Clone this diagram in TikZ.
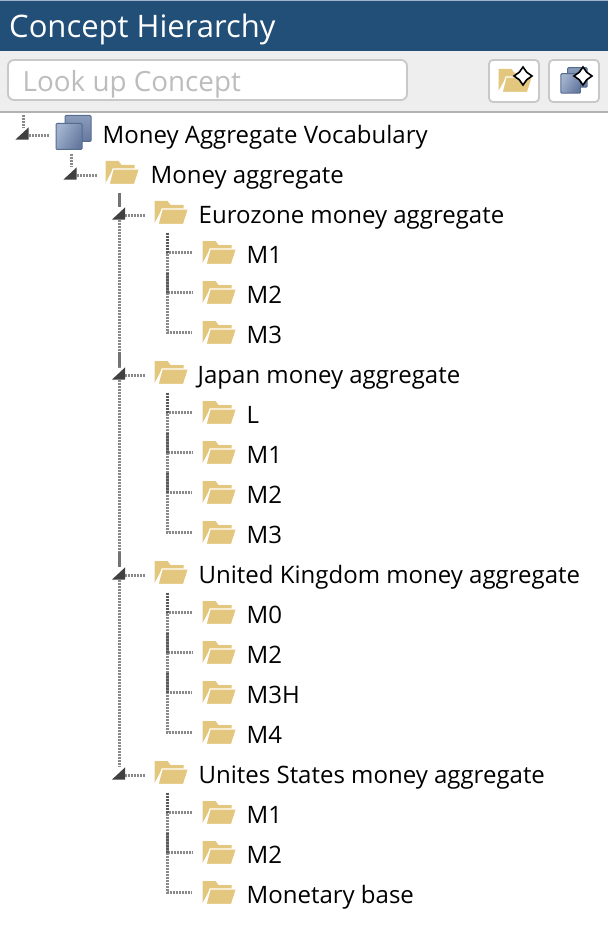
\documentclass[tikz,border=0pt]{standalone}
\usepackage{fontspec}
\setmainfont{Open Sans}
\usepackage{xcolor}
\definecolor{header}{HTML}{214F77}
\definecolor{bar}{HTML}{EEEEEE}
\definecolor{edge}{HTML}{C8C8C8}
\definecolor{hint}{HTML}{BDBDBD}
\definecolor{tan}{HTML}{E3C77F}
\definecolor{cubelight}{HTML}{A3B3CE}
\definecolor{cubedark}{HTML}{65799F}
\definecolor{cubeline}{HTML}{566C8F}
\definecolor{treegray}{HTML}{8A8A8A}
\usetikzlibrary{shapes.geometric}
\tikzset{
    bannertext/.style = {
      anchor=base west,
      inner sep=0pt,
      text=white,
      font=\fontsize{31}{34}\selectfont
    },
    hinttext/.style = {
      anchor=base west,
      inner sep=0pt,
      text=hint,
      font=\fontsize{27.8}{30}\selectfont
    },
    concept/.style = {
      anchor=base west,
      inner sep=0pt,
      font=\fontsize{24}{28}\selectfont
    },
    folder/.style = {
      inner sep=0pt,
      minimum width=35pt,
      minimum height=25pt
    },
    cube/.style = {
      inner sep=0pt,
      minimum width=36pt,
      minimum height=35pt
    },
    toggle/.style = {
      inner sep=0pt,
      minimum width=13pt,
      minimum height=12pt
    },
    button/.style = {
      draw=edge,
      line width=1.8pt,
      fill=white,
      rounded corners=4pt,
      inner sep=0pt,
      minimum width=50pt,
      minimum height=42pt
    },
    spark/.style = {
      star,
      star points=4,
      star point ratio=1.7,
      draw=black,
      fill=white,
      line width=1.6pt,
      inner sep=0pt,
      minimum size=18pt
    },
    treeline/.style = {
      draw=treegray,
      line width=3pt,
      dash pattern=on 2pt off 1pt
    },
    treedark/.style = {
      treeline,
      draw=black!65
    },
    stemline/.style = {
      draw=black!55,
      line width=3pt
    },
    pics/foldericon/.style = {
      code = {
        \fill[tan] (-16.5,-11.5) -- (-3.5,-11.5) -- (-0.5,-7.5) -- (12.5,-7.5) -- (12.5,-2.5) -- (-9.5,-2.5) -- (-16.5,10.5) -- cycle;
        \fill[tan, draw=white, line width=1.2pt] (-9,-3.5) -- (17.5,-3.5) -- (12.5,12) -- (-13,12) -- cycle;
      }
    },
    pics/cubeicon/.style = {
      code = {
        \draw[cubeline, line width=1pt, top color=cubelight!60!cubedark, bottom color=cubedark, rounded corners=1pt] (-8.5,-17) rectangle (17.5,9);
        \draw[cubeline, line width=1pt, left color=cubelight, right color=cubedark, shading angle=60, rounded corners=1pt] (-17.5,-9) rectangle (8.5,17);
      }
    }
}
\begin{document}
\begin{tikzpicture}[x=1pt,y=-1pt]
      \useasboundingbox (0,0) rectangle (608,925);

      % title and tool bar
      \fill[header] (0,0) rectangle (608,51);
      \fill[cubelight] (0,0) rectangle (608,1);
      \fill[bar] (0,51) rectangle (608,111);
      \fill[black!30] (0,111) rectangle (608,113);
      \node[bannertext] (title) at (9,38) {Concept Hierarchy};
      \node[draw=edge, line width=1.8pt, fill=white, rounded corners=6pt, minimum width=399pt, minimum height=40pt, inner sep=0pt] (search) at (207.5,80) {};
      \node[hinttext] (hint) at (22.5,92) {Look up Concept};
      \node[button] (newfolder) at (514,81) {};
      \node[button] (newcube) at (574,81) {};
      \node[folder] (iconF) at (515,80.5) {};
      \node[cube]   (iconC) at (574,80.5) {};
      \pic at (iconF) {foldericon};
      \pic[scale=0.75] at (iconC) {cubeicon};
      \node[spark] (sparkF) at (523,76) {};
      \node[spark] (sparkC) at (583,76) {};

      % upper levels
      \node[toggle]   (tR) at (22,133.5) {};
      \node[cube]     (R)  at (73.5,132.5) {};
      \node[concept]  (lR) at (102.5,144) {Money Aggregate Vocabulary};
      \node[toggle]   (tA) at (70,173.5) {};
      \node[folder]   (A)  at (122,172.5) {};
      \node[concept]  (lA) at (150.5,184) {Money aggregate};
      \coordinate     (topR) at (23,115);
      \coordinate     (topA) at (71,154);

      % countries
      \node[toggle]   (tE) at (118.5,213.5) {};
      \node[folder]   (E)  at (171,212.5) {};
      \node[concept]  (lE) at (198.5,223.5) {Eurozone money aggregate};
      \node[toggle]   (tJ) at (118.5,373.5) {};
      \node[folder]   (J)  at (171,372.5) {};
      \node[concept]  (lJ) at (197.5,383.5) {Japan money aggregate};
      \node[toggle]   (tK) at (118.5,573.5) {};
      \node[folder]   (K)  at (171,572.5) {};
      \node[concept]  (lK) at (198.5,583.5) {United Kingdom money aggregate};
      \node[toggle]   (tU) at (118.5,773.5) {};
      \node[folder]   (U)  at (171,772.5) {};
      \node[concept]  (lU) at (198.5,783.5) {Unites States money aggregate};

      % Eurozone
      \node[folder]   (E1) at (219,252.5) {};
      \node[concept]  (lE1) at (246.5,263.5) {M1};
      \node[folder]   (E2) at (219,292.5) {};
      \node[concept]  (lE2) at (246.5,303.5) {M2};
      \node[folder]   (E3) at (219,332.5) {};
      \node[concept]  (lE3) at (246.5,343.5) {M3};

      % Japan
      \node[folder]   (J0) at (219,412.5) {};
      \node[concept]  (lJ0) at (246.5,423.5) {L};
      \node[folder]   (J1) at (219,452.5) {};
      \node[concept]  (lJ1) at (246.5,463.5) {M1};
      \node[folder]   (J2) at (219,492.5) {};
      \node[concept]  (lJ2) at (246.5,503.5) {M2};
      \node[folder]   (J3) at (219,532.5) {};
      \node[concept]  (lJ3) at (246.5,543.5) {M3};

      % United Kingdom
      \node[folder]   (K0) at (219,612.5) {};
      \node[concept]  (lK0) at (246.5,623.5) {M0};
      \node[folder]   (K2) at (219,652.5) {};
      \node[concept]  (lK2) at (246.5,663.5) {M2};
      \node[folder]   (K3) at (219,692.5) {};
      \node[concept]  (lK3) at (246.5,703.5) {M3H};
      \node[folder]   (K4) at (219,732.5) {};
      \node[concept]  (lK4) at (246.5,743.5) {M4};

      % United States
      \node[folder]   (U1) at (219,812.5) {};
      \node[concept]  (lU1) at (246.5,823.5) {M1};
      \node[folder]   (U2) at (219,852.5) {};
      \node[concept]  (lU2) at (246.5,863.5) {M2};
      \node[folder]   (Ub) at (219,892.5) {};
      \node[concept]  (lUb) at (246.5,903.5) {Monetary base};

      \foreach \f in {A, E, J, K, U, E1, E2, E3, J0, J1, J2, J3, K0, K2, K3, K4, U1, U2, Ub}
        \pic at (\f) {foldericon};
      \pic at (R) {cubeicon};

      \coordinate (sE) at (167,233);
      \coordinate (sJ) at (167,393);
      \coordinate (sK) at (167,593);
      \coordinate (sU) at (167,793);
      \coordinate (topE) at (119,193);

      \draw[treeline] (topR) -- (tR.north -| topR);
      \draw[treeline] (topA) -- (tA.north -| topA);
      \draw[stemline] (topE) -- (tE.north -| topE);
      \draw[treeline] (tE.south -| topE) -- (tJ.north -| topE);
      \draw[treeline] (tJ.south -| topE) -- (tK.north -| topE);
      \draw[treeline] (tK.south -| topE) -- (tU.north -| topE);
      \foreach \t in {tJ, tK}
        \draw[stemline] (\t.north -| topE) -- ++(0,-15);
      \foreach \t in {tR, tA, tE, tJ, tK, tU}
        \draw[treeline] ([yshift=-2pt]\t.east) -- ++(20,0);
      \foreach \s/\c in {sE/E1, sE/E2, sE/E3, sJ/J0, sJ/J1, sJ/J2, sJ/J3, sK/K0, sK/K2, sK/K3, sK/K4, sU/U1, sU/U2, sU/Ub}
        \draw[treeline] (\s) |- ([xshift=-9.5pt]\c.west);
      \foreach \s/\c in {sE/E1, sE/E2, sJ/J0, sJ/J1, sJ/J2, sK/K0, sK/K2, sK/K3, sU/U1, sU/U2}
        \draw[treedark] ([yshift=20pt]\c.west -| \s) -- (\c.west -| \s);
      \foreach \t in {tR, tA, tE, tJ, tK, tU}
        \fill[black!75] (\t.south west) -- (\t.south east) -- (\t.north east) -- cycle;
    \end{tikzpicture}
\end{document}
